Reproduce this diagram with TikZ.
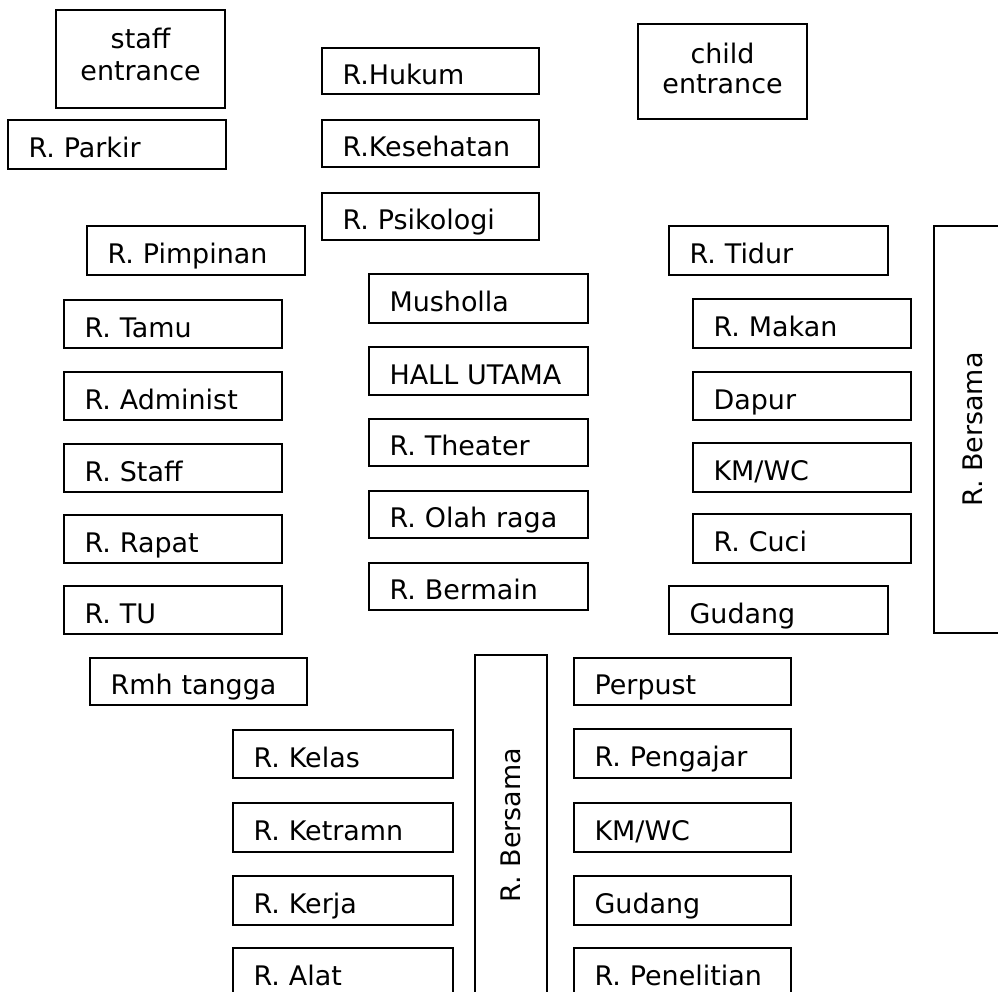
\documentclass[tikz,border=0pt]{standalone}
\usepackage{fontspec}
\setmainfont{DejaVu Sans}
\begin{document}
\begin{tikzpicture}[x=0.75pt,y=-0.75pt,
  every node/.style={font=\fontsize{20.2pt}{24pt}\selectfont},
  wall/.style={draw=black, line width=1.6pt},
  room/.style={wall, anchor=north west, inner xsep=15.375pt, inner ysep=0pt,
    align=left, text height=19.5pt, text depth=0pt, minimum height=36pt},
  w217/.style={minimum width=162.75pt, text width=132pt},
  w218/.style={minimum width=163.5pt, text width=132.75pt},
  w219/.style={minimum width=164.25pt, text width=133.5pt},
  w220/.style={minimum width=165pt, text width=134.25pt},
  entrance/.style={wall, anchor=north west, inner sep=0pt, minimum width=126.75pt,
    text depth=0pt},
  hall/.style={wall, rotate=90, inner sep=0pt}
]
\useasboundingbox (0,0) rectangle (998,991);

% entrances
\node[entrance, minimum height=73.5pt, text height=31.5pt] (staffin) at (55,9)
  {\begin{tabular}[b]{@{}c@{}}staff\\entrance\end{tabular}};
\node[entrance, minimum height=71.25pt, text height=32.25pt,
  font=\fontsize{20.2pt}{22pt}\selectfont] (childin) at (637,23)
  {\begin{tabular}[b]{@{}c@{}}child\\entrance\end{tabular}};

% upper block
\node[room, w218, minimum height=49*0.75pt] (parkir) at (7,119) {R. Parkir};
\node[room, w217, minimum height=46*0.75pt] (hukum) at (321,47) {R.Hukum};
\node[room, w217, minimum height=47*0.75pt] (sehat) at (321,119) {R.Kesehatan};
\node[room, w217, minimum height=47*0.75pt] (psiko) at (321,192) {R. Psikologi};

% office wing
\node[room, w218, minimum height=49*0.75pt] (pimpinan) at (86,225) {R. Pimpinan};
\node[room, w218] (tamu) at (63,299) {R. Tamu};
\node[room, w218] (admin) at (63,371) {R. Administ};
\node[room, w218] (staff) at (63,443) {R. Staff};
\node[room, w218] (rapat) at (63,514) {R. Rapat};
\node[room, w218] (tu) at (63,585) {R. TU};
\node[room, w217, minimum height=47*0.75pt] (rt) at (89,657) {Rmh tangga};

% central hall
\node[room, w219, minimum height=49*0.75pt] (musholla) at (368,273) {Musholla};
\node[room, w219] (hallu) at (368,346) {HALL UTAMA};
\node[room, w219, minimum height=47*0.75pt] (theater) at (368,418) {R. Theater};
\node[room, w219, minimum height=47*0.75pt] (olah) at (368,490) {R. Olah raga};
\node[room, w219, minimum height=47*0.75pt] (main) at (368,562) {R. Bermain};

% living wing
\node[room, w219, minimum height=49*0.75pt] (tidur) at (668,225) {R. Tidur};
\node[room, w218, minimum height=49*0.75pt] (makan) at (692,298) {R. Makan};
\node[room, w218] (dapur) at (692,371) {Dapur};
\node[room, w218, minimum height=49*0.75pt] (kmwcA) at (692,442) {KM/WC};
\node[room, w218, minimum height=49*0.75pt] (cuci) at (692,513) {R. Cuci};
\node[room, w219] (gudangA) at (668,585) {Gudang};
\node[hall, minimum width=407*0.75pt, minimum height=78*0.75pt] (bersamaA)
  at (973,429.5) {R. Bersama};

% school wing
\node[hall, minimum width=340*0.75pt, minimum height=72*0.75pt] (bersamaB)
  at (511,825) {R. Bersama};
\node[room, w220] (kelas) at (232,729) {R. Kelas};
\node[room, w220, minimum height=49*0.75pt] (ketr) at (232,802) {R. Ketramn};
\node[room, w220, minimum height=49*0.75pt] (kerja) at (232,875) {R. Kerja};
\node[room, w220] (alat) at (232,947) {R. Alat};
\node[room, w217, minimum height=47*0.75pt] (perpust) at (573,657) {Perpust};
\node[room, w217, minimum height=49*0.75pt] (pengajar) at (573,728) {R. Pengajar};
\node[room, w217, minimum height=49*0.75pt] (kmwcB) at (573,802) {KM/WC};
\node[room, w217, minimum height=49*0.75pt] (gudangB) at (573,875) {Gudang};
\node[room, w217] (teliti) at (573,947) {R. Penelitian};
\end{tikzpicture}
\end{document}
